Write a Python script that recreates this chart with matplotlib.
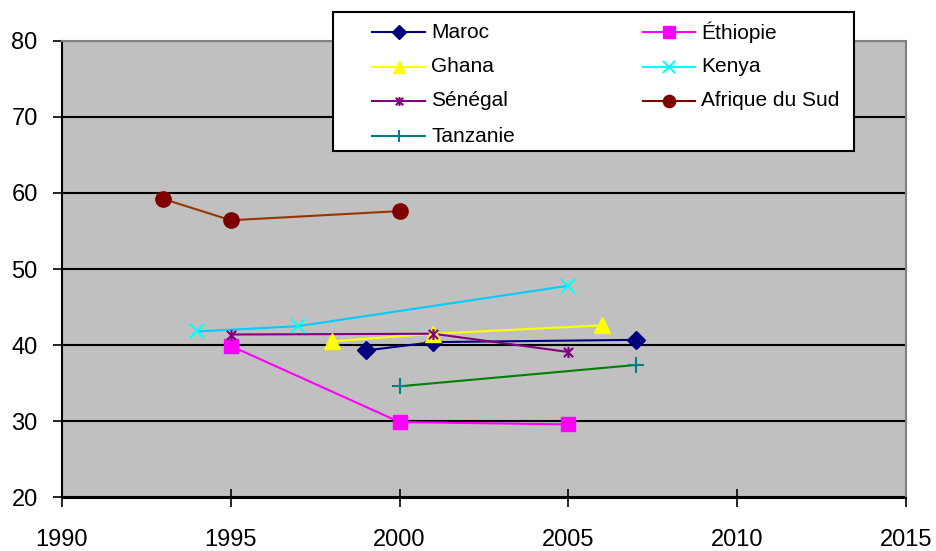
import matplotlib
matplotlib.use("Agg")
import matplotlib.pyplot as plt
from matplotlib.path import Path
from matplotlib.lines import Line2D
from matplotlib.patches import Rectangle

plt.rcParams['font.family'] = ['Liberation Sans', 'DejaVu Sans']

# Data
maroc_x = [1999, 2001, 2007]
maroc_y = [39.3, 40.4, 40.7]
ethiopie_x = [1995, 2000, 2005]
ethiopie_y = [39.9, 29.9, 29.6]
ghana_x = [1998, 2001, 2006]
ghana_y = [40.5, 41.5, 42.6]
kenya_x = [1994, 1997, 2005]
kenya_y = [41.8, 42.5, 47.8]
senegal_x = [1995, 2001, 2005]
senegal_y = [41.4, 41.5, 39.1]
afsud_x = [1993, 1995, 2000]
afsud_y = [59.2, 56.4, 57.6]
tanzanie_x = [2000, 2007]
tanzanie_y = [34.6, 37.4]

x_ticks = [1990, 1995, 2000, 2005, 2010, 2015]
y_ticks = [20, 30, 40, 50, 60, 70, 80]

W, H = 936, 551
star = Path([(-1, -1), (1, 1), (-1, 1), (1, -1), (0, -1.2), (0, 1.2)],
            [Path.MOVETO, Path.LINETO, Path.MOVETO, Path.LINETO, Path.MOVETO, Path.LINETO])

fig = plt.figure(figsize=(W/100, H/100), dpi=100)
ax = fig.add_axes([62/W, 1-497.5/H, (906-62)/W, (497.5-40.5)/H])
ax.set_facecolor('#C0C0C0')

lw = 1.5
series = [
    ("Maroc", maroc_x, maroc_y, '#000080', '#000080', 'D', 9.5, 1),
    ("Éthiopie", ethiopie_x, ethiopie_y, '#FF00FF', '#FF00FF', 's', 10, 1),
    ("Ghana", ghana_x, ghana_y, '#FFFF00', '#FFFF00', '^', 11, 1),
    ("Kenya", kenya_x, kenya_y, '#00CCFF', '#00FFFF', 'x', 10, 1.5),
    ("Sénégal", senegal_x, senegal_y, '#800080', '#800080', star, 8, 1.5),
    ("Afrique du Sud", afsud_x, afsud_y, '#993300', '#800000', 'o', 11, 1),
    ("Tanzanie", tanzanie_x, tanzanie_y, '#008000', '#008080', '+', 11, 1.5),
]
for name, xs, ys, lc, mc, m, ms, mew in series:
    ax.plot(xs, ys, color=lc, lw=lw, zorder=3)
    ax.plot(xs, ys, ls='none', marker=m, ms=ms, color=mc, mec=mc, mfc=mc, mew=mew, zorder=4)

ax.set_xlim(1990, 2015)
ax.set_ylim(20, 80)
ax.set_xticks(x_ticks)
ax.set_yticks(y_ticks)
ax.yaxis.grid(True, color='black', lw=1.5, zorder=1)
ax.set_axisbelow(True)
ax.tick_params(axis='both', direction='inout', length=13, width=1.2, labelsize=17, color='black')
ax.tick_params(axis='x', pad=16)
ax.tick_params(axis='y', pad=11)
for s in ['left', 'bottom']:
    ax.spines[s].set_color('black')
    ax.spines[s].set_linewidth(1.5)
for s in ['top', 'right']:
    ax.spines[s].set_color('#808080')
    ax.spines[s].set_linewidth(1.5)

# Legend drawn manually in figure pixel coordinates
def fx(px):
    return px / W

def fy(py):
    return 1 - py / H

fig.add_artist(Rectangle((fx(333), fy(151)), fx(854) - fx(333), fy(12) - fy(151),
                         transform=fig.transFigure, facecolor='white', edgecolor='black',
                         lw=1.5, zorder=10))
order = [("Maroc", 0, 0), ("Éthiopie", 1, 0), ("Ghana", 0, 1), ("Kenya", 1, 1),
         ("Sénégal", 0, 2), ("Afrique du Sud", 1, 2), ("Tanzanie", 0, 3)]
col_x = [(372, 425, 431), (643, 695, 701)]
row_y = [32, 66.5, 101, 136]
info = {s[0]: s for s in series}
for name, c, r in order:
    _, _, _, lc, mc, m, ms, mew = info[name]
    x0, x1, xt = col_x[c]
    y = row_y[r]
    fig.add_artist(Line2D([fx(x0), fx(x1)], [fy(y), fy(y)], transform=fig.transFigure,
                          color=mc, lw=lw, zorder=11))
    fig.add_artist(Line2D([fx((x0 + x1) / 2)], [fy(y)], transform=fig.transFigure,
                          ls='none', marker=m, ms=ms * 0.8, mfc=mc, mec=mc, mew=mew, zorder=12))
    fig.text(fx(xt), fy(y), name, fontsize=15, va='center', ha='left', zorder=12)

fig.savefig("out.png", dpi=100)
